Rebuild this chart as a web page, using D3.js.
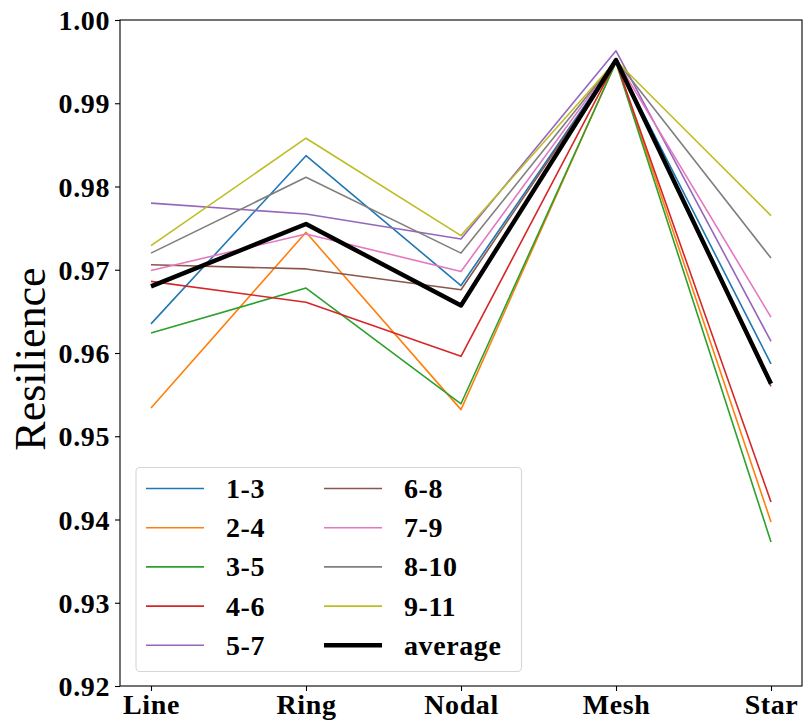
<!DOCTYPE html>
<html>
<head>
<meta charset="utf-8">
<script src="https://cdn.jsdelivr.net/npm/d3@7"></script>
<style>
  html, body { margin: 0; padding: 0; background: #fff; }
  svg { display: block; }
</style>
</head>
<body>
<svg id="chart" width="805" height="722"></svg>
<script>
// ---- data ----
const categories = ["Line", "Ring", "Nodal", "Mesh", "Star"];
const yTicks = [0.92, 0.93, 0.94, 0.95, 0.96, 0.97, 0.98, 0.99, 1.00];

const s1_3  = [0.9635, 0.9837, 0.9681, 0.9952, 0.9587];
const s2_4  = [0.9534, 0.9745, 0.9532, 0.9950, 0.9397];
const s3_5  = [0.9624, 0.9678, 0.9539, 0.9949, 0.9373];
const s4_6  = [0.9686, 0.9661, 0.9596, 0.9950, 0.9421];
const s5_7  = [0.9780, 0.9767, 0.9737, 0.9963, 0.9614];
const s6_8  = [0.9706, 0.9701, 0.9676, 0.9951, 0.9560];
const s7_9  = [0.9699, 0.9743, 0.9698, 0.9953, 0.9643];
const s8_10 = [0.9720, 0.9811, 0.9720, 0.9952, 0.9714];
const s9_11 = [0.9729, 0.9858, 0.9741, 0.9951, 0.9765];
const average = [0.9680, 0.9755, 0.9657, 0.9952, 0.9563];

const seriesNames = ["1-3", "2-4", "3-5", "4-6", "5-7", "6-8", "7-9", "8-10", "9-11", "average"];
const seriesValues = [s1_3, s2_4, s3_5, s4_6, s5_7, s6_8, s7_9, s8_10, s9_11, average];
const seriesColors = ["#1f77b4", "#ff7f0e", "#2ca02c", "#d62728", "#9467bd",
                      "#8c564b", "#e377c2", "#7f7f7f", "#bcbd22", "#000000"];

// ---- layout ----
const svg = d3.select("#chart");
const L = 120, R = 802, T = 20, B = 686;
const boldFont = "'Liberation Serif', 'Times New Roman', serif";

const x = d3.scaleLinear().domain([-0.2, categories.length - 1 + 0.2]).range([L, R]);
const y = d3.scaleLinear().domain([0.92, 1.00]).range([B, T]);

// axes
const yAxis = d3.axisLeft(y).tickValues(yTicks).tickFormat(d3.format(".2f")).tickSize(5).tickPadding(5);
const xAxis = d3.axisBottom(x).tickValues(d3.range(categories.length)).tickFormat(i => categories[i]).tickSize(5).tickPadding(5);

const gy = svg.append("g").attr("transform", `translate(${L},0)`).call(yAxis);
const gx = svg.append("g").attr("transform", `translate(0,${B})`).call(xAxis);
[gx, gy].forEach(g => {
  g.select(".domain").remove();
  g.selectAll(".tick line").attr("stroke", "#000").attr("stroke-width", 1.1);
  g.selectAll(".tick text")
    .attr("fill", "#000")
    .style("font-family", boldFont)
    .style("font-weight", "bold")
    .style("font-size", "28px")
    .style("letter-spacing", "0.6px");
});
gy.selectAll(".tick text").attr("dy", "0.34em");
gx.selectAll(".tick text").attr("dy", "0.64em");

// y label
svg.append("text")
  .attr("transform", `translate(45,359) rotate(-90)`)
  .attr("text-anchor", "middle")
  .style("font-family", "'Liberation Serif', 'Times New Roman', serif")
  .style("font-size", "44px")
  .attr("fill", "#000")
  .text("Resilience");

// lines
const line = d3.line().x((d, i) => x(i)).y(d => y(d));
seriesValues.forEach((vals, k) => {
  svg.append("path")
    .datum(vals)
    .attr("d", line)
    .attr("fill", "none")
    .attr("stroke", seriesColors[k])
    .attr("stroke-width", k === 9 ? 4.4 : 1.6)
    .attr("stroke-linejoin", "round")
    .attr("stroke-linecap", "butt");
});

// frame (spines)
svg.append("rect")
  .attr("x", L).attr("y", T).attr("width", R - L).attr("height", B - T)
  .attr("fill", "none").attr("stroke", "#000").attr("stroke-width", 1.1);

// legend
const lg = svg.append("g");
lg.append("rect")
  .attr("x", 136).attr("y", 467.5).attr("width", 385.5).attr("height", 204)
  .attr("rx", 4).attr("fill", "#fff").attr("fill-opacity", 0.8)
  .attr("stroke", "#d6d6d6").attr("stroke-width", 1.1);
const rowY0 = 488.5, rowStep = 39.2;
const colX = [{h0: 146, h1: 204, t: 226}, {h0: 324, h1: 382, t: 404}];
seriesNames.forEach((name, k) => {
  const col = Math.floor(k / 5), row = k % 5;
  const cy = rowY0 + row * rowStep;
  const c = colX[col];
  lg.append("line")
    .attr("x1", c.h0).attr("x2", c.h1).attr("y1", cy).attr("y2", cy)
    .attr("stroke", seriesColors[k]).attr("stroke-width", k === 9 ? 4.4 : 1.6);
  lg.append("text")
    .attr("x", c.t).attr("y", cy).attr("dy", "0.34em")
    .style("font-family", boldFont).style("font-weight", "bold")
    .style("font-size", "28px").style("letter-spacing", "0.6px")
    .attr("fill", "#000")
    .text(name);
});
</script>
</body>
</html>
